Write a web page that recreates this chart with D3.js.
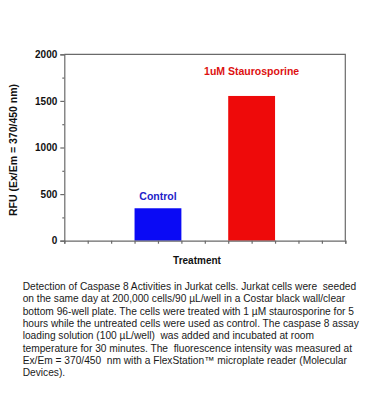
<!DOCTYPE html>
<html>
<head>
<meta charset="utf-8">
<script src="https://cdn.jsdelivr.net/npm/d3@7"></script>
<style>
  body { margin: 0; background: #fff; }
  svg { display: block; font-family: Arial, "Liberation Sans", sans-serif; }
</style>
</head>
<body>
<div id="chart"></div>
<script>
var categories = ["Control", "1uM Staurosporine"];
var values = [348, 1553];
var barColors = ["#0a0af5", "#ee0a0a"];
var labelColors = ["#2222c8", "#dd1111"];
var yTicks = [0, 500, 1000, 1500, 2000];
var yLabel = "RFU (Ex/Em = 370/450 nm)";
var xLabel = "Treatment";
var caption = [
  "Detection of Caspase 8 Activities in Jurkat cells. Jurkat cells were  seeded",
  "on the same day at 200,000 cells/90 \u00b5L/well in a Costar black wall/clear",
  "bottom 96-well plate. The cells were treated with 1 \u00b5M staurosporine for 5",
  "hours while the untreated cells were used as control. The caspase 8 assay",
  "loading solution (100 \u00b5L/well)  was added and incubated at room",
  "temperature for 30 minutes. The  fluorescence intensity was measured at",
  "Ex/Em = 370/450  nm with a FlexStation\u2122 microplate reader (Molecular",
  "Devices)."
];

var plotLeft = 64.3, plotRight = 345.3, plotTop = 54.3, plotBottom = 240.7;

var svg = d3.select("#chart")
  .append("svg")
    .attr("width", 370)
    .attr("height", 420);

var x = d3.scaleBand()
  .domain(categories)
  .range([plotLeft, plotRight])
  .paddingInner(0.5)
  .paddingOuter(0.75);

// plain 0..12 scale just for the tick marks along the bottom
var xTickScale = d3.scaleLinear().domain([0, 12]).range([plotLeft, plotRight]);

var y = d3.scaleLinear()
  .domain([0, 2000])
  .range([plotBottom, plotTop]);

// bars
svg.selectAll("rect.bar")
  .data(values)
  .enter()
  .append("rect")
    .attr("class", "bar")
    .attr("x", function (d, i) { return x(categories[i]); })
    .attr("y", function (d) { return y(d); })
    .attr("width", x.bandwidth())
    .attr("height", function (d) { return y(0) - y(d); })
    .attr("fill", function (d, i) { return barColors[i]; });

// frame top + right
svg.append("path")
  .attr("d", "M" + plotLeft + "," + plotTop + "H" + plotRight + "V" + plotBottom)
  .attr("fill", "none")
  .attr("stroke", "#6a6a6a")
  .attr("stroke-width", 1.2);

// y axis
var yAxis = svg.append("g")
  .attr("transform", "translate(" + plotLeft + ",0)")
  .call(d3.axisLeft(y).tickValues(yTicks).tickFormat(d3.format("d")).tickSize(4).tickPadding(3));
svg.append("g")
  .attr("transform", "translate(" + plotLeft + ",0)")
  .call(d3.axisLeft(y).tickValues([250, 750, 1250, 1750]).tickSize(2).tickFormat(""))
  .select(".domain").remove();

// x axis
var xAxis = svg.append("g")
  .attr("transform", "translate(0," + plotBottom + ")")
  .call(d3.axisBottom(xTickScale).ticks(12).tickSize(3).tickFormat(""));

svg.selectAll(".domain, .tick line")
  .attr("stroke", "#6a6a6a")
  .attr("stroke-width", 1.2);
yAxis.selectAll("text")
  .attr("fill", "#111")
  .style("font-size", "10px")
  .style("font-weight", "bold");

// bar labels
var labelY = [y(values[0]) - 8, 75];
svg.selectAll("text.barlabel")
  .data(categories)
  .enter()
  .append("text")
    .attr("class", "barlabel")
    .attr("x", function (d) { return x(d) + x.bandwidth() / 2; })
    .attr("y", function (d, i) { return labelY[i]; })
    .attr("text-anchor", "middle")
    .attr("fill", function (d, i) { return labelColors[i]; })
    .style("font-size", "10.5px")
    .style("font-weight", "bold")
    .text(function (d) { return d; });

// axis titles
svg.append("text")
  .attr("x", 197)
  .attr("y", 264)
  .attr("text-anchor", "middle")
  .attr("fill", "#111")
  .style("font-size", "10px")
  .style("font-weight", "bold")
  .text(xLabel);

svg.append("text")
  .attr("transform", "translate(17,150) rotate(-90)")
  .attr("text-anchor", "middle")
  .attr("fill", "#111")
  .style("font-size", "10.5px")
  .style("font-weight", "bold")
  .text(yLabel);

// caption
svg.append("g").selectAll("text")
  .data(caption)
  .enter()
  .append("text")
    .attr("x", 22.7)
    .attr("y", function (d, i) { return 290 + i * 12.3; })
    .attr("fill", "#1a1a1a")
    .style("font-size", "10.2px")
    .style("white-space", "pre")
    .text(function (d) { return d; });
</script>
</body>
</html>
